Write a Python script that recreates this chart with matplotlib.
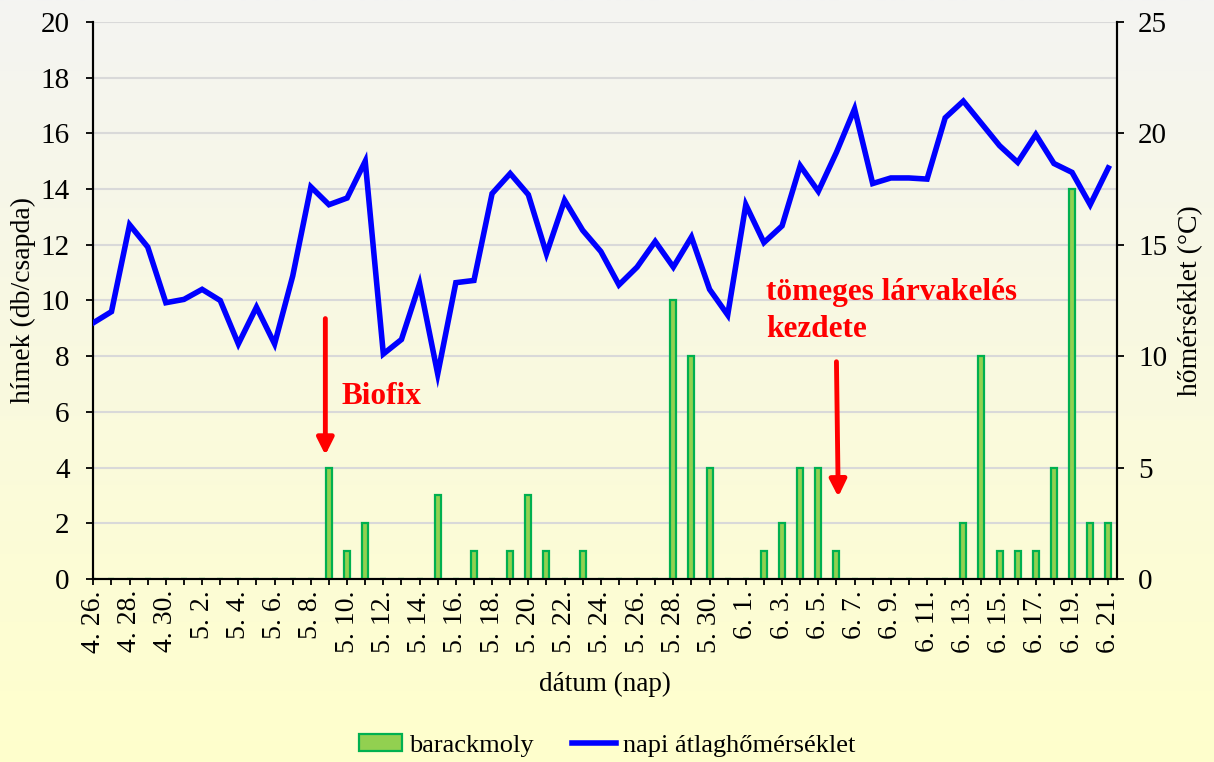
import matplotlib.pyplot as plt
import numpy as np
from matplotlib.lines import Line2D
from matplotlib.patches import Patch

plt.rcParams['font.family'] = ['Liberation Serif', 'DejaVu Serif']

# daily data, 4.26. - 6.21. (57 days)
dates = ['4. 26.', '4. 27.', '4. 28.', '4. 29.', '4. 30.',
         '5. 1.', '5. 2.', '5. 3.', '5. 4.', '5. 5.', '5. 6.', '5. 7.', '5. 8.', '5. 9.',
         '5. 10.', '5. 11.', '5. 12.', '5. 13.', '5. 14.', '5. 15.', '5. 16.', '5. 17.',
         '5. 18.', '5. 19.', '5. 20.', '5. 21.', '5. 22.', '5. 23.', '5. 24.', '5. 25.',
         '5. 26.', '5. 27.', '5. 28.', '5. 29.', '5. 30.', '5. 31.',
         '6. 1.', '6. 2.', '6. 3.', '6. 4.', '6. 5.', '6. 6.', '6. 7.', '6. 8.', '6. 9.',
         '6. 10.', '6. 11.', '6. 12.', '6. 13.', '6. 14.', '6. 15.', '6. 16.', '6. 17.',
         '6. 18.', '6. 19.', '6. 20.', '6. 21.']

# barackmoly catch (males / trap)
moths = [0, 0, 0, 0, 0, 0, 0, 0, 0, 0, 0, 0, 0, 4,
         1, 2, 0, 0, 0, 3, 0, 1, 0, 1, 3, 1, 0, 1, 0, 0,
         0, 0, 10, 8, 4, 0,
         0, 1, 2, 4, 4, 1, 0, 0, 0, 0, 0, 0, 2, 8, 1, 1, 1, 4, 14, 2, 2]

# daily mean temperature (°C)
temp = [11.5, 12.0, 15.9, 14.9, 12.4, 12.55, 13.0, 12.5, 10.55, 12.2, 10.55, 13.6, 17.6, 16.8,
        17.1, 18.75, 10.1, 10.75, 13.25, 9.2, 13.3, 13.4, 17.3, 18.2, 17.25, 14.6, 17.0, 15.65,
        14.7, 13.2, 14.0, 15.15, 14.0, 15.35, 13.0, 11.85,
        16.8, 15.1, 15.85, 18.55, 17.4, 19.15, 21.1, 17.75, 18.0, 18.0, 17.95, 20.7, 21.45,
        20.45, 19.45, 18.7, 19.95, 18.65, 18.25, 16.8, 18.45]

x = np.arange(len(dates))

fig = plt.figure(figsize=(12.14, 7.62), dpi=100)

# background gradient (light grey at top -> light yellow at bottom)
bg = fig.add_axes([0, 0, 1, 1], zorder=-10)
top = np.array([244, 244, 242]) / 255
bottom = np.array([255, 255, 204]) / 255
t = np.linspace(0, 1, 256)[:, None]
grad = top[None, :] * (1 - t) + bottom[None, :] * t
bg.imshow(grad[:, None, :], aspect='auto', extent=[0, 1, 0, 1])
bg.axis('off')

ax1 = fig.add_axes([0.0769, 0.2402, 0.9204 - 0.0769, 0.9711 - 0.2402])
ax1.patch.set_alpha(0)
ax1.set_axisbelow(True)

ax1.bar(x, moths, width=0.33, color='#92d050', edgecolor='#00b050', linewidth=1.6,
        zorder=3, label='barackmoly')
ax1.set_ylim(0, 20)
ax1.set_yticks(np.arange(0, 21, 2))
ax1.set_xlim(0, 56.5)
ax1.grid(axis='y', color='#d9d9d9', linewidth=1.5)
ax1.set_ylabel('hímek (db/csapda)', fontsize=20, labelpad=3)
ax1.set_xlabel('dátum (nap)', fontsize=19.5, labelpad=14)

ax1.set_xticks(x)
ax1.set_xticklabels([d if i % 2 == 0 else '' for i, d in enumerate(dates)],
                    rotation=90, fontsize=20)
ax1.tick_params(axis='x', direction='out', length=4, width=1.3, pad=4)
ax1.tick_params(axis='y', direction='out', length=5, width=1.3, labelsize=21, pad=12)

ax2 = ax1.twinx()
ax2.plot(x, temp, color='#0000ff', linewidth=4, solid_joinstyle='miter',
         label='napi átlaghőmérséklet', zorder=4)
ax2.set_ylim(0, 25)
ax2.set_yticks(np.arange(0, 26, 5))
ax2.set_ylabel('hőmérséklet (°C)', fontsize=20, labelpad=8)
ax2.tick_params(axis='y', direction='out', length=5, width=1.3, labelsize=21, pad=10)

for ax in (ax1, ax2):
    ax.spines['top'].set_visible(False)
    for side in ('left', 'right', 'bottom'):
        ax.spines[side].set_linewidth(1.5)

# annotations
arrow = dict(arrowstyle='-|>,head_length=1.0,head_width=0.5', color='#ff0000',
             linewidth=3.5, shrinkA=0, shrinkB=0)
ax1.annotate('', xy=(12.8, 4.45), xytext=(12.8, 9.35), arrowprops=arrow, zorder=5)
ax1.annotate('', xy=(41.1, 2.95), xytext=(41.0, 7.8), arrowprops=arrow, zorder=5)
ax1.text(13.7, 6.55, 'Biofix', color='#ff0000', fontsize=22.5, fontweight='bold',
         ha='left', va='center')
ax1.text(37.1, 10.3, 'tömeges lárvakelés', color='#ff0000', fontsize=22.5,
         fontweight='bold', ha='left', va='center')
ax1.text(37.1, 8.95, 'kezdete', color='#ff0000', fontsize=22.5,
         fontweight='bold', ha='left', va='center')

handles = [Patch(facecolor='#92d050', edgecolor='#00b050', linewidth=1.6, label='barackmoly'),
           Line2D([0], [0], color='#0000ff', linewidth=4, label='napi átlaghőmérséklet')]
fig.legend(handles=handles, loc='center', bbox_to_anchor=(0.5, 0.022), ncol=2,
           frameon=False, fontsize=19, handlelength=1.65, handleheight=0.65,
           handletextpad=0.27, columnspacing=1.45)

fig.savefig('out.png', dpi=100)
